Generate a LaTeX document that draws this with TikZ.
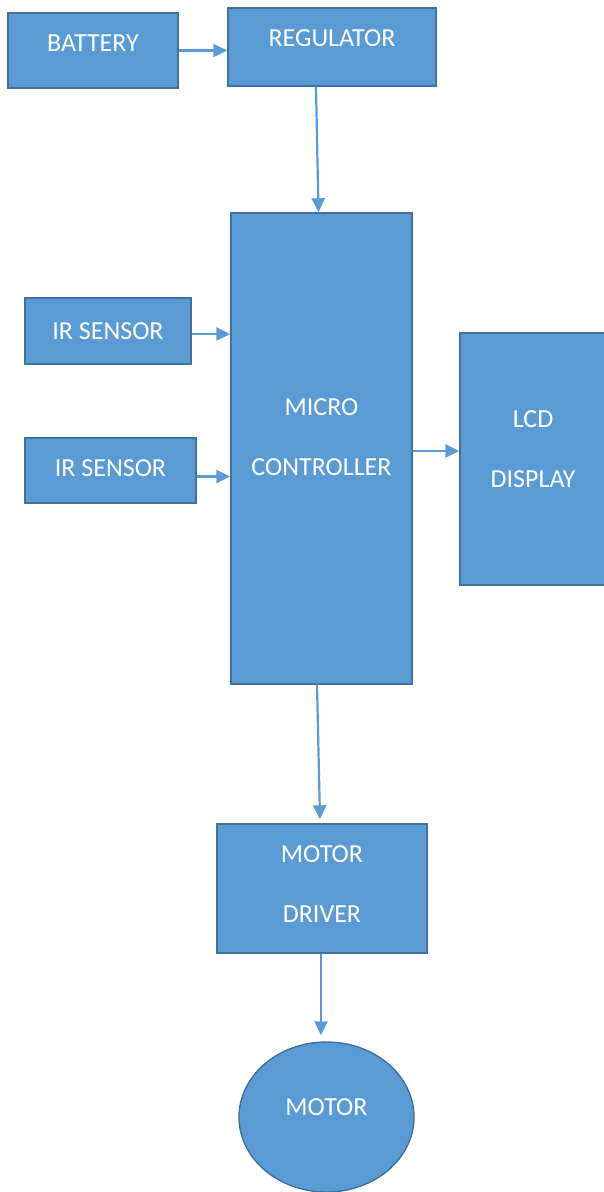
\documentclass[tikz,border=0pt]{standalone}
\usepackage{fontspec}
\setmainfont{Carlito}
\usepackage{tikz}
\usetikzlibrary{
  positioning, arrows.meta, shapes.geometric, calc,
}
\definecolor{blkFill}{HTML}{5B9BD5}
\definecolor{blkEdge}{HTML}{41719C}
\definecolor{wireCol}{HTML}{5B9BD5}

\tikzset{
  blk/.style={draw=blkEdge, fill=blkFill, line width=1.4pt, inner sep=0pt,
              text=white, align=center, font=\fontsize{26}{60}\selectfont},
  lift/.style={text depth=#1},
  wire/.style={draw=wireCol, line width=2.2pt,
               -{Triangle[length=14pt, width=13pt]}},
}

\begin{document}
\begin{tikzpicture}[x=1pt, y=-1pt]
  \useasboundingbox (0,0) rectangle (603,1192);
  % power side
  \node[blk, lift=15pt, minimum width=170pt, minimum height=75pt] (bat) at (93,50.5) {BATTERY};
  \node[blk, lift=18pt, minimum width=208pt, minimum height=78pt] (reg) at (332,47) {REGULATOR};
  % controller and its inputs / outputs
  \node[blk, lift=22pt, minimum width=181pt, minimum height=471pt] (mcu) at (321.5,448.5) {MICRO\\CONTROLLER};
  \node[blk, minimum width=166pt, minimum height=66pt] (irA) at (108,331) {IR SENSOR};
  \node[blk, lift=4pt, minimum width=171pt, minimum height=65pt] (irB) at (110.5,470.5) {IR SENSOR};
  \node[blk, lift=19pt, minimum width=146pt, minimum height=252pt] (lcd) at (533,459) {LCD\\DISPLAY};
  % drive side
  \node[blk, lift=8pt, minimum width=210pt, minimum height=129pt] (drv) at (322,888.5) {MOTOR\\DRIVER};
  \node[blk, ellipse, lift=20pt, minimum width=175pt, minimum height=150pt] (mot) at (326.5,1117) {MOTOR};

  \draw[wire] (bat.east) -- (bat.east -| reg.west);
  \draw[wire] ([xshift=-16pt]reg.south) -- ([xshift=-3pt]mcu.north);
  \draw[wire] ([yshift=-3pt]irA.east) -- ([yshift=-3pt]irA.east -| mcu.west);
  \draw[wire] ([yshift=-6pt]irB.east) -- ([yshift=-6pt]irB.east -| mcu.west);
  \draw[wire] ([yshift=-2.5pt]mcu.east) -- ([yshift=-2.5pt]mcu.east -| lcd.west);
  \draw[wire] ([xshift=-4.5pt]mcu.south) -- ([xshift=-2pt,yshift=4pt]drv.north);
  \draw[wire] ([xshift=-1pt]drv.south) -- ([xshift=-1pt,yshift=6pt]drv.south |- mot.north);
\end{tikzpicture}
\end{document}
